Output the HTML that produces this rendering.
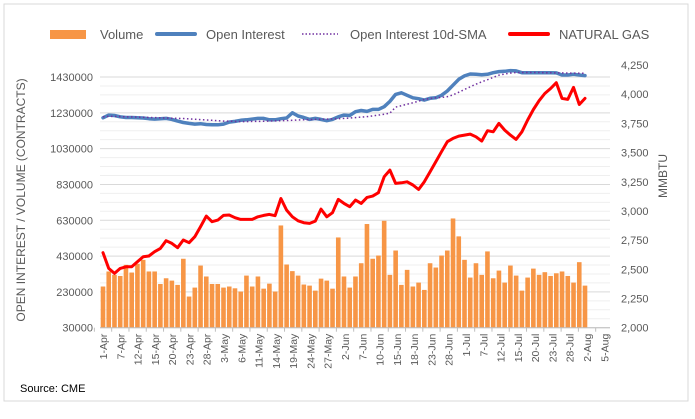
<!DOCTYPE html>
<html><head><meta charset="utf-8"><style>
html,body{margin:0;padding:0;background:#fff;}
svg{display:block;font-family:"Liberation Sans",sans-serif;}
</style></head><body>
<svg id="chart" width="695" height="419" viewBox="0 0 695 419">
<rect x="4" y="4" width="684" height="397" fill="#fff" stroke="#d9d9d9"/>
<g id="grid"></g>
<g id="bars"></g>
<g id="lines"></g>
<g id="yleft"></g>
<g id="yright"></g>
<g id="xaxis"></g>
<text transform="translate(25,200) rotate(-90)" text-anchor="middle" font-size="12" fill="#595959">OPEN INTEREST / VOLUME (CONTRACTS)</text>
<text transform="translate(667,176) rotate(-90)" text-anchor="middle" font-size="12" fill="#595959">MMBTU</text>
<text x="20" y="392" font-size="11" fill="#000">Source: CME</text>
<g>
  <g><rect x="50" y="30" width="36" height="9" fill="#f79646"/><text x="100" y="39" font-size="13" fill="#595959">Volume</text></g>
  <g><line x1="157" y1="34" x2="195" y2="34" stroke="#4f81bd" stroke-width="4" stroke-linecap="round"/><text x="206" y="39" font-size="13" fill="#595959">Open Interest</text></g>
  <g><line x1="302" y1="34" x2="338" y2="34" stroke="#7030a0" stroke-width="1.5" stroke-dasharray="1.5,2"/><text x="350" y="39" font-size="13" fill="#595959">Open Interest 10d-SMA</text></g>
  <g><line x1="510" y1="34" x2="548" y2="34" stroke="#ff0000" stroke-width="4" stroke-linecap="round"/><text x="559" y="39" font-size="13" fill="#595959">NATURAL GAS</text></g>
</g>
</svg>
<script>
const xLabels=["1-Apr","7-Apr","12-Apr","15-Apr","20-Apr","23-Apr","28-Apr","3-May","6-May","11-May","14-May","19-May","24-May","27-May","2-Jun","7-Jun","10-Jun","15-Jun","18-Jun","23-Jun","28-Jun","1-Jul","7-Jul","12-Jul","15-Jul","20-Jul","23-Jul","28-Jul","2-Aug","5-Aug"];
const leftTicks=[30000,230000,430000,630000,830000,1030000,1230000,1430000];
const rightTicks=[2000,2250,2500,2750,3000,3250,3500,3750,4000,4250];
const volume=[260,344,325,319,381,338,387,409,344,344,274,306,293,269,415,204,254,377,316,274,274,254,260,250,232,321,260,316,248,276,232,601,383,346,321,271,265,237,304,293,248,534,316,254,316,390,609,415,433,627,325,
461,269,353,260,282,241,390,366,433,461,640,540,409,310,390,325,456,306,349,282,377,321,237,310,360,325,340,319,334,344,319,282,396,265];
const openInterest=[1202,1217,1215,1208,1204,1204,1202,1201,1197,1195,1197,1199,1193,1184,1176,1171,1167,1169,1165,1163,1163,1167,1178,1182,1188,1191,1195,1199,1199,1191,1191,1197,1201,1230,1212,1204,1193,1199,1193,1186,1193,1208,1217,1215,1236,1243,1238,1249,1249,1264,1294,
1333,1342,1328,1314,1309,1301,1311,1314,1328,1352,1384,1417,1436,1447,1445,1443,1445,1454,1460,1462,1466,1464,1454,1454,1454,1454,1454,1454,1453,1441,1441,1445,1441,1438];
const oiSma=[1208,1210,1210,1209,1208,1207,1206,1205,1204,1203,1202,1201,1200,1199,1198,1196,1194,1192,1190,1188,1186,1184,1183,1182,1181,1181,1182,1182,1183,1184,1185,1186,1187,1188,1190,1191,1192,1193,1194,1195,1196,1197,1199,1201,1203,1206,1209,1213,1217,1222,1228,
1262,1270,1278,1286,1295,1305,1310,1314,1316,1320,1330,1345,1360,1375,1390,1403,1415,1428,1440,1447,1452,1455,1455,1455,1455,1455,1454,1454,1453,1453,1452,1452,1451,1451];
const natGas=[2642,2508,2465,2508,2522,2522,2565,2608,2614,2651,2679,2745,2722,2685,2751,2728,2779,2865,2956,2908,2922,2962,2965,2942,2928,2928,2928,2950,2962,2970,2959,3107,3007,2950,2916,2899,2893,2913,3016,2950,2985,3099,3065,3036,3093,3065,3116,3127,3156,3293,3350,
3236,3241,3250,3222,3184,3250,3336,3421,3507,3593,3621,3641,3650,3658,3635,3598,3687,3678,3750,3692,3650,3613,3678,3778,3869,3944,4006,4049,4098,3964,3955,4058,3912,3964];

const NS="http://www.w3.org/2000/svg";
const X0=103, XLAST=585, BASE=327.7, TOPL=77, TOPR=65;
const step=(XLAST-X0)/(volume.length-1);
const xPos=i=>X0+i*step;
const labelX=j=>X0+j*(587-X0)/28;
const yL=v=>BASE-(v-30000)/(1430000-30000)*(BASE-TOPL);
const yR=v=>BASE-(v-2000)/(4250-2000)*(BASE-TOPR);
function mk(tag,attrs,parent){const e=document.createElementNS(NS,tag);for(const k in attrs)e.setAttribute(k,attrs[k]);parent.appendChild(e);return e;}
const grid=document.getElementById('grid');
for(let v=30000;v<=1430000;v+=50000){
  const l=mk('line',{x1:100,x2:610,y1:yL(v),y2:yL(v),stroke:(v-30000)%200000===0?'#d9d9d9':'#efefef','stroke-width':1},grid);
  
  
}
const yl=document.getElementById('yleft');
leftTicks.forEach(v=>{const t=mk('text',{x:93,y:yL(v)+4,'text-anchor':'end','font-size':11,fill:'#595959'},yl);t.textContent=String(v);
  
  });
const yr=document.getElementById('yright');
rightTicks.forEach(v=>{const t=mk('text',{x:621,y:yR(v)+4,'font-size':11,fill:'#595959'},yr);t.textContent=v.toLocaleString('en-US');
  
  });
const bars=document.getElementById('bars');
volume.forEach((v,i)=>{const y=yL(v*1000);const r=mk('rect',{x:xPos(i)-2.3,y:y,width:4.6,height:BASE-y,fill:'#f79646'},bars);
  
  });
const xa=document.getElementById('xaxis');
const ax=mk('line',{x1:100,x2:610,y1:BASE,y2:BASE,stroke:'#bfbfbf'},xa);


xLabels.forEach((s,j)=>{const x=labelX(j);
  const tk=mk('line',{x1:x-step*1.5,x2:x-step*1.5,y1:BASE,y2:BASE+4,stroke:'#bfbfbf'},xa);
  
  
  const t=mk('text',{transform:`translate(${x+4},${BASE+6}) rotate(-90)`,'text-anchor':'end','font-size':10.5,fill:'#595959'},xa);t.textContent=s;
  
  });
const lines=document.getElementById('lines');
function path(arr,fy,attrs,name){const d=arr.map((v,i)=>(i?'L':'M')+xPos(i).toFixed(1)+','+fy(v).toFixed(1)).join('');
  const p=mk('path',Object.assign({d:d,fill:'none','stroke-linejoin':'round','stroke-linecap':'round'},attrs),lines);
  
  }
path(openInterest,v=>yL(v*1000),{stroke:'#4f81bd','stroke-width':3.5},'open-interest-line');
path(oiSma,v=>yL(v*1000),{stroke:'#7030a0','stroke-width':1.5,'stroke-dasharray':'1.5,2.5','stroke-linecap':'butt'},'oi-sma-line');
path(natGas,yR,{stroke:'#ff0000','stroke-width':3},'natural-gas-line');
</script>
</body></html>
